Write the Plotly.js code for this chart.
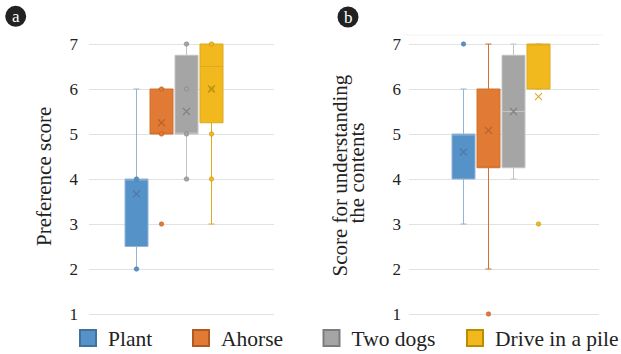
<!DOCTYPE html>
<html>
<head>
<meta charset="utf-8">
<script src="https://cdn.plot.ly/plotly-3.0.1.min.js"></script>
<style>html,body{margin:0;padding:0;background:#fff;}#chart{width:621px;height:354px;}</style>
</head>
<body>
<div id="chart"></div>
<script>
// ---- data ----
const categories = ['Plant', 'Ahorse', 'Two dogs', 'Drive in a pile'];
const yTicks = [1, 2, 3, 4, 5, 6, 7];

// Panel a: Preference score
const q1A = [2.5, 5, 5, 5.25];
const medianA = [4, 5, 5, 6.5];
const q3A = [4, 6, 6.75, 7];
const lowA = [2, 5, 4, 3];
const highA = [6, 6, 7, 7];
const meanA = [3.67, 5.25, 5.5, 6.0];
const pointsA = [[2, 4], [3, 5, 6], [4, 5, 6, 7], [4, 5, 6, 7]];

// Panel b: Score for understanding the contents
const q1B = [4, 4.25, 4.25, 6];
const medianB = [5, 4.25, 5.5, 7];
const q3B = [5, 6, 6.75, 7];
const lowB = [3, 2, 4, 6];
const highB = [6, 7, 7, 7];
const meanB = [4.6, 5.08, 5.5, 5.83];
const pointsB = [[7], [1], [], [3]];

// ---- styles ----
const fills = ['#5592c8', '#e07a35', '#a5a5a5', '#f2b91f'];
const edges = ['#94b3d6', '#d3712e', '#c4c4c4', '#dcaa1e'];
const darks = ['#41719c', '#ae5a21', '#7c7c7c', '#bc8c00'];
const meanColsA = ['#4f78a3', '#b9622b', '#808080', '#b98f14'];
const meanColsB = ['#4f78a3', '#b9622b', '#808080', '#e3a625'];
const serif = 'Liberation Serif, Times New Roman, serif';
const legendIds = ['legend', 'legend2', 'legend3', 'legend4'];
const legendLeftPx = [68, 181, 311.5, 455];

const W = 621, H = 354;
const M = {l: 89, r: 22, t: 35, b: 35, autoexpand: false};
const PW = W - M.l - M.r, PH = H - M.t - M.b;
const px2x = p => (p - M.l) / PW;
const py2y = p => (H - M.b - p) / PH;

const traces = [];
function addPanel(xa, ya, q1, med, q3, lo, hi, mean, pts, meanCols) {
  categories.forEach((c, i) => {
    traces.push({
      type: 'box', x: [i], q1: [q1[i]], median: [med[i]], q3: [q3[i]],
      lowerfence: [lo[i]], upperfence: [hi[i]],
      xaxis: xa, yaxis: ya, width: 0.92, whiskerwidth: 0.26,
      fillcolor: fills[i], line: {color: edges[i], width: 1},
      boxpoints: false, showlegend: false, hoverinfo: 'skip', name: c
    });
    if (pts[i].length) {
      traces.push({
        type: 'scatter', mode: 'markers', x: pts[i].map(() => i), y: pts[i],
        xaxis: xa, yaxis: ya, showlegend: false, hoverinfo: 'skip',
        marker: {symbol: 'circle', size: 4.5, color: fills[i], line: {color: darks[i], width: 0.5}}
      });
    }
    traces.push({
      type: 'scatter', mode: 'markers', x: [i], y: [mean[i]],
      xaxis: xa, yaxis: ya, showlegend: false, hoverinfo: 'skip',
      marker: {symbol: 'x-thin-open', size: 7, color: meanCols[i], line: {color: meanCols[i], width: 1.1}}
    });
  });
}
addPanel('x', 'y', q1A, medianA, q3A, lowA, highA, meanA, pointsA, meanColsA);
addPanel('x2', 'y2', q1B, medianB, q3B, lowB, highB, meanB, pointsB, meanColsB);

// legend entries (one legend box per entry so spacing matches)
categories.forEach((c, i) => {
  traces.push({
    type: 'scatter', mode: 'markers', x: [null], y: [null], name: c,
    xaxis: 'x', yaxis: 'y', showlegend: true, hoverinfo: 'skip', legend: legendIds[i],
    marker: {symbol: 'square', size: 16, color: fills[i], line: {color: darks[i], width: 2}}
  });
});

const yRange = [1 - 5 / 45, 7 + 9 / 45];
const yBase = {
  range: yRange, tickvals: yTicks, showgrid: true, gridcolor: '#e2e2e2', gridwidth: 1,
  zeroline: false, showline: false, ticks: '', fixedrange: true,
  tickfont: {family: serif, size: 17, color: '#222'}
};
const xBase = {showticklabels: false, showgrid: false, zeroline: false, showline: false, ticks: '', fixedrange: true};

const layout = {
  width: W, height: H, margin: M,
  paper_bgcolor: '#fff', plot_bgcolor: '#fff',
  font: {family: serif, color: '#222'},
  xaxis: Object.assign({}, xBase, {domain: [0, px2x(274)], range: [-1.9, 5.5]}),
  xaxis2: Object.assign({}, xBase, {domain: [px2x(409), 1], range: [-2.18, 5.42], anchor: 'y2'}),
  yaxis: Object.assign({}, yBase, {anchor: 'x', ticklabelstandoff: 10}),
  yaxis2: Object.assign({}, yBase, {anchor: 'x2', ticklabelstandoff: 7}),
  showlegend: true,
  shapes: [
    {type: 'line', xref: 'paper', yref: 'paper', x0: px2x(403), x1: px2x(603), y0: py2y(35), y1: py2y(35), line: {color: '#f3f3f3', width: 1}},
    {type: 'circle', xref: 'paper', yref: 'paper', x0: px2x(5.2), x1: px2x(26.2), y0: py2y(26.8), y1: py2y(5.8), fillcolor: '#222', line: {width: 0}},
    {type: 'circle', xref: 'paper', yref: 'paper', x0: px2x(337.5), x1: px2x(358.5), y0: py2y(27.5), y1: py2y(6.5), fillcolor: '#222', line: {width: 0}}
  ],
  annotations: [
    {text: 'a', xref: 'paper', yref: 'paper', x: px2x(15.7), y: py2y(16.3), xanchor: 'center', yanchor: 'middle', showarrow: false, font: {family: serif, size: 17, color: '#fff'}},
    {text: 'b', xref: 'paper', yref: 'paper', x: px2x(348), y: py2y(17), xanchor: 'center', yanchor: 'middle', showarrow: false, font: {family: serif, size: 17, color: '#fff'}},
    {text: 'Preference score', xref: 'paper', yref: 'paper', x: px2x(44), y: py2y(177), xanchor: 'center', yanchor: 'middle', textangle: -90, showarrow: false, font: {family: serif, size: 21, color: '#222'}},
    {text: 'Score for understanding', xref: 'paper', yref: 'paper', x: px2x(339), y: py2y(175.5), xanchor: 'center', yanchor: 'middle', textangle: -90, showarrow: false, font: {family: serif, size: 21, color: '#222'}},
    {text: 'the contents', xref: 'paper', yref: 'paper', x: px2x(356), y: py2y(173.5), xanchor: 'center', yanchor: 'middle', textangle: -90, showarrow: false, font: {family: serif, size: 21, color: '#222'}}
  ]
};
legendIds.forEach((id, i) => {
  layout[id] = {
    orientation: 'h', x: px2x(legendLeftPx[i]), xanchor: 'left', y: py2y(338), yanchor: 'middle',
    font: {family: serif, size: 21.5, color: '#222'}, bgcolor: 'rgba(0,0,0,0)',
    itemclick: false, itemdoubleclick: false
  };
});

Plotly.newPlot('chart', traces, layout, {displayModeBar: false, staticPlot: true});
</script>
</body>
</html>
